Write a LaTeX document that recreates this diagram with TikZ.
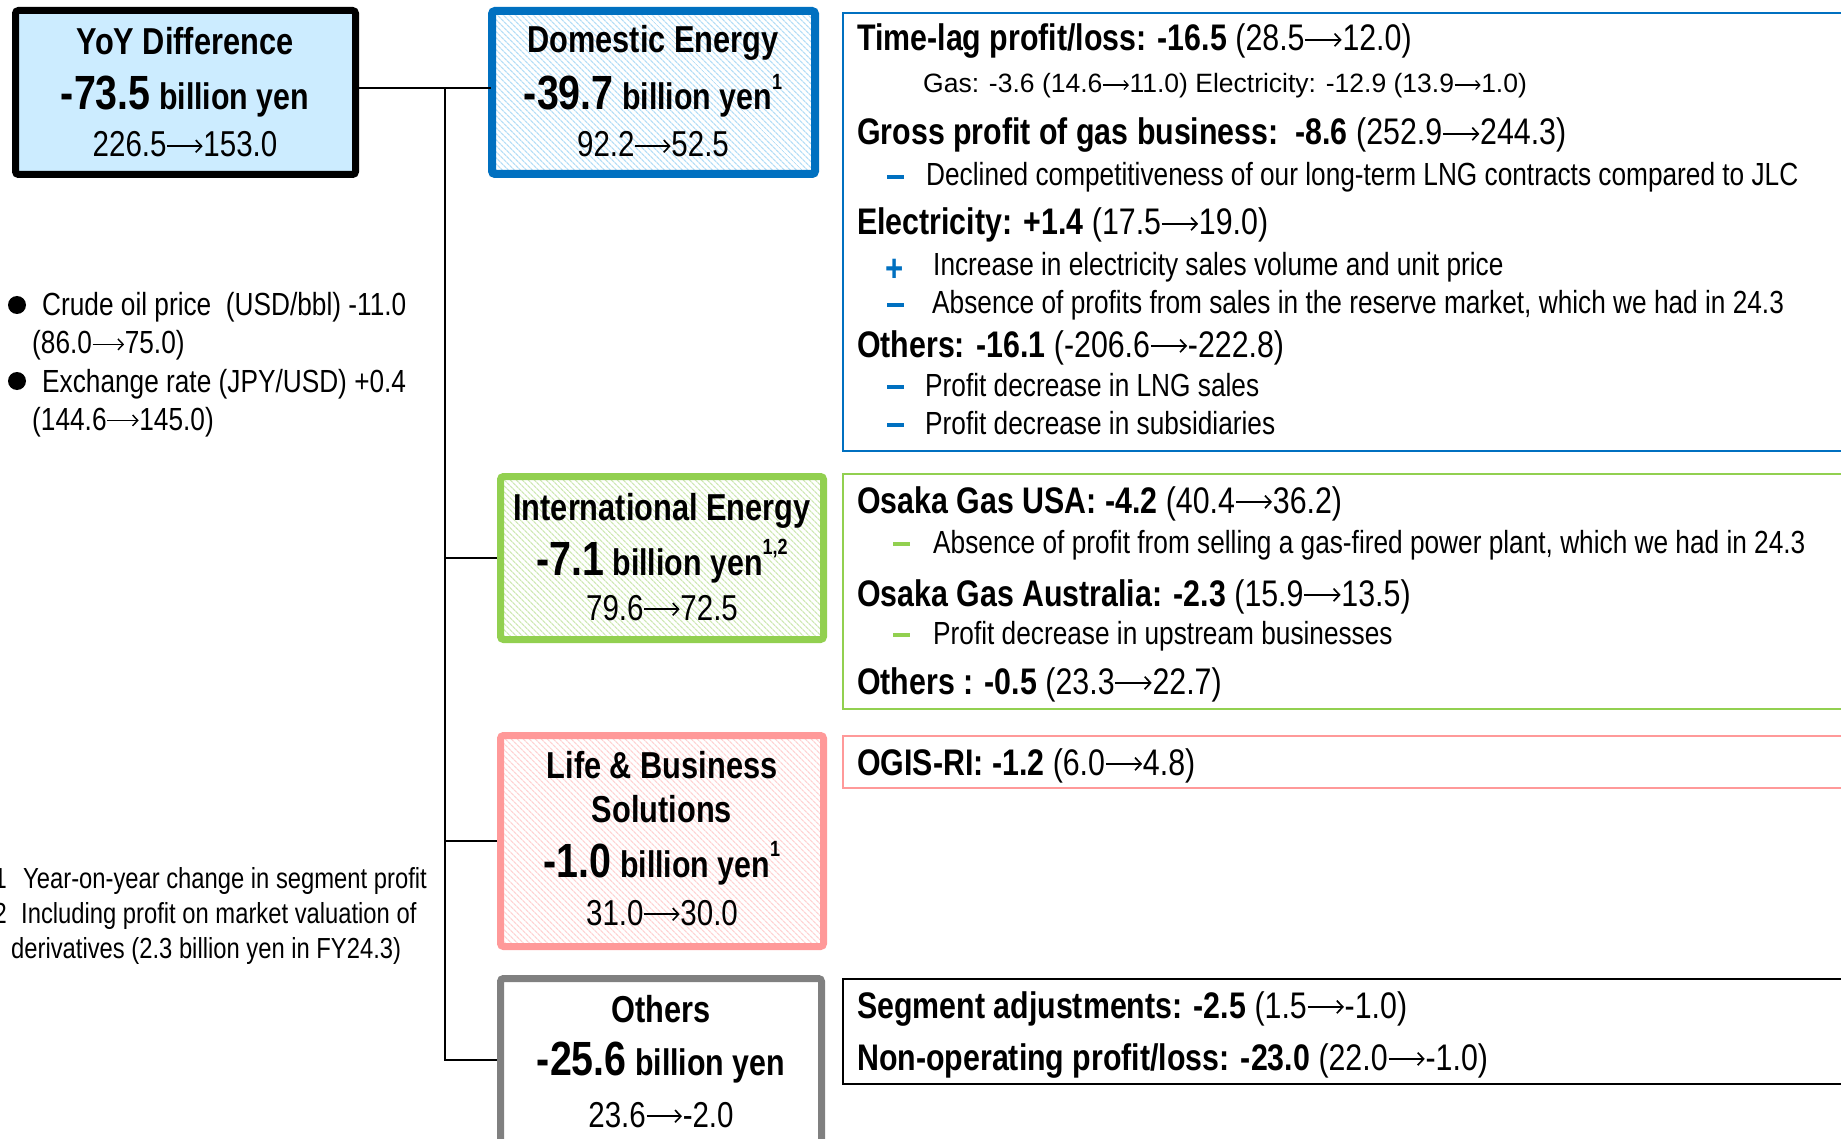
\documentclass[tikz,border=0pt]{standalone}
\usepackage{fontspec}
\setmainfont{Liberation Sans}[FakeStretch=0.82]
\newfontfamily\widefont{Liberation Sans}
\usetikzlibrary{patterns.meta,arrows.meta}

\definecolor{dblue}{HTML}{0070C0}
\definecolor{lblue}{HTML}{CCECFF}
\definecolor{hblue}{HTML}{B4DEF7}
\definecolor{dgreen}{HTML}{92D050}
\definecolor{hgreen}{HTML}{CFE9B4}
\definecolor{dpink}{HTML}{FF9999}
\definecolor{hpink}{HTML}{FFD3D3}
\definecolor{dgrey}{HTML}{808080}

\newcommand\fs[1]{\fontsize{#1}{#1}\selectfont}
\newcommand\ar{\tikz[baseline=-0.3em,line cap=butt]{\draw[draw=black,line width=0.045em,-{Straight Barb[length=0.16em,width=0.34em,line width=0.045em]}] (0.02em,0pt) -- (1.0em,0pt);}}
\newcommand\sups[1]{\raisebox{0.55em}{\fs{22}#1}}

\tikzset{
  segbox/.style={draw, rounded corners=3pt, line width=7pt, inner sep=0pt},
  hatch/.style={pattern={Lines[angle=-45,distance=4pt,line width=1.3pt]}, pattern color=#1},
  panel/.style={draw=#1, line width=2pt, anchor=north west, inner sep=0pt, minimum width=1100pt},
  ctext/.style={anchor=base, inner sep=0pt},
  hd/.style={anchor=base west, inner sep=0pt, font=\fs{37}},
  sub/.style={anchor=base west, inner sep=0pt, font=\fs{32}},
  note/.style={anchor=base west, inner sep=0pt, font=\fs{32}},
  fnote/.style={anchor=base west, inner sep=0pt, font=\fs{29}},
  mk/.style={fill=#1, draw=none, minimum width=17pt, minimum height=4pt, inner sep=0pt},
  conn/.style={line width=2.5pt, draw=black},
}

\begin{document}
\begin{tikzpicture}[x=1pt,y=-1pt]
\useasboundingbox (0,0) rectangle (1841,1139);
\fill[white] (0,0) rectangle (1841,1139);
\clip (0,0) rectangle (1841,1139);

% ---------- segment boxes ----------
\node[segbox, draw=black, fill=lblue, minimum width=340pt, minimum height=164pt] (yoy) at (185.5,92.5) {};
\node[segbox, draw=dblue, line width=8pt, hatch=hblue, minimum width=323pt, minimum height=163pt] (dom) at (653.5,92.5) {};
\node[segbox, draw=dgreen, hatch=hgreen, minimum width=323pt, minimum height=163pt] (intl) at (662,558) {};
\node[segbox, draw=dpink, hatch=hpink, minimum width=323pt, minimum height=211pt] (life) at (662,841) {};
\node[segbox, draw=dgrey, fill=white, minimum width=321pt, minimum height=168pt] (oth) at (661,1062.5) {};

% ---------- connectors ----------
\coordinate (jtop) at (445,88);
\coordinate (jint) at (445,558);
\coordinate (jlife) at (445,841);
\coordinate (joth) at (445,1060);
\draw[conn] (yoy.east |- jtop) -- (dom.west |- jtop);
\draw[conn] (jtop) -- (joth) -- (oth.west |- joth);
\draw[conn] (jint) -- (intl.west);
\draw[conn] (jlife) -- (life.west);

% ---------- box texts ----------
\node[ctext] (yoy1) at (185,55) {\bfseries\fs{37.5}YoY Difference};
\node[ctext] (yoy2) at (185,110) {\bfseries{\fs{48}-73.5}\fs{37} billion yen};
\node[ctext] (yoy3) at (185,157) {\fs{36}226.5\ar 153.0};

\node[ctext] (dom1) at (653,53) {\bfseries\fs{37.5}Domestic Energy};
\node[ctext] (dom2) at (653,110) {\bfseries{\fs{48}-39.7}\fs{37} billion yen\sups{1}};
\node[ctext] (dom3) at (653,157) {\fs{36}92.2\ar 52.5};

\node[ctext] (int1) at (662,520) {\bfseries\fs{37.5}International Energy};
\node[ctext] (int2) at (662,575) {\bfseries{\fs{48}-7.1}\fs{37} billion yen\sups{1,2}};
\node[ctext] (int3) at (662,620) {\fs{36}79.6\ar 72.5};

\node[ctext] (lif1) at (662,778) {\bfseries\fs{37.5}Life \& Business};
\node[ctext] (lif2) at (662,822) {\bfseries\fs{37.5}Solutions};
\node[ctext] (lif3) at (662,877) {\bfseries{\fs{48}-1.0}\fs{37} billion yen\sups{1}};
\node[ctext] (lif4) at (662,925) {\fs{36}31.0\ar 30.0};

\node[ctext] (oth1) at (661,1022) {\bfseries\fs{37.5}Others};
\node[ctext] (oth2) at (661,1075) {\bfseries{\fs{48}-25.6}\fs{37} billion yen};
\node[ctext] (oth3) at (661,1127) {\fs{36}23.6\ar -2.0};

% ---------- left notes ----------
\node[circle, fill=black, inner sep=0pt, minimum size=18pt] (b1) at (17,305) {};
\node[note] (n1) at (42,316) {Crude oil price\ \ (USD/bbl) -11.0};
\node[note] (n2) at (32,354) {(86.0\ar 75.0)};
\node[circle, fill=black, inner sep=0pt, minimum size=18pt] (b2) at (17,381) {};
\node[note] (n3) at (42,392) {Exchange rate (JPY/USD) +0.4};
\node[note] (n4) at (32,430) {(144.6\ar 145.0)};

\node[fnote, anchor=base east] (f1n) at (7,888) {1};
\node[fnote] (f1) at (23,888) {Year-on-year change in segment profit};
\node[fnote, anchor=base east] (f2n) at (7,923) {2};
\node[fnote] (f2) at (21,923) {Including profit on market valuation of};
\node[fnote] (f3) at (11,958) {derivatives (2.3 billion yen in FY24.3)};

% ---------- right panels ----------
\node[panel=dblue, minimum height=438pt] (domR) at (842,12) {};
\node[panel=dgreen, minimum height=235pt] (intR) at (842,473) {};
\node[panel=dpink, minimum height=52pt] (lifR) at (842,735) {};
\node[panel=black, minimum height=105pt] (othR) at (842,978) {};

% domestic details
\node[hd] (d1) at (857,51) {\textbf{Time-lag profit/loss: -16.5} (28.5\ar 12.0)};
\node[sub, font=\widefont\fs{26.5}] (d2) at (923,93) {Gas: -3.6 (14.6\ar 11.0) Electricity: -12.9 (13.9\ar 1.0)};
\node[hd] (d3) at (857,145) {\textbf{Gross profit of gas business:\ \ -8.6} (252.9\ar 244.3)};
\node[mk=dblue] (m1) at (895,177) {};
\node[sub] (d4) at (926,186) {Declined competitiveness of our long-term LNG contracts compared to JLC};
\node[hd] (d5) at (857,235) {\textbf{Electricity: +1.4} (17.5\ar 19.0)};
\node[ctext, text=dblue, font=\bfseries\fs{38}] (pl1) at (895,282) {+};
\node[sub] (d6) at (933,276) {Increase in electricity sales volume and unit price};
\node[mk=dblue] (m2) at (895,305) {};
\node[sub] (d7) at (932,314) {Absence of profits from sales in the reserve market, which we had in 24.3};
\node[hd] (d8) at (857,357) {\textbf{Others: -16.1} (-206.6\ar -222.8)};
\node[mk=dblue] (m3) at (895,387) {};
\node[sub] (d9) at (925,396) {Profit decrease in LNG sales};
\node[mk=dblue] (m4) at (895,425) {};
\node[sub] (d10) at (925,434) {Profit decrease in subsidiaries};

% international details
\node[hd] (i1) at (857,513) {\textbf{Osaka Gas USA: -4.2} (40.4\ar 36.2)};
\node[mk=dgreen] (g1) at (901,544) {};
\node[sub] (i2) at (933,553) {Absence of profit from selling a gas-fired power plant, which we had in 24.3};
\node[hd] (i3) at (857,606) {\textbf{Osaka Gas Australia: -2.3} (15.9\ar 13.5)};
\node[mk=dgreen] (g2) at (901,635) {};
\node[sub] (i4) at (933,644) {Profit decrease in upstream businesses};
\node[hd] (i5) at (857,694) {\textbf{Others : -0.5} (23.3\ar 22.7)};

% life details
\node[hd] (l1) at (857,775) {\textbf{OGIS-RI: -1.2} (6.0\ar 4.8)};

% others details
\node[hd] (o1) at (857,1018) {\textbf{Segment adjustments: -2.5} (1.5\ar -1.0)};
\node[hd] (o2) at (857,1070) {\textbf{Non-operating profit/loss: -23.0} (22.0\ar -1.0)};
\end{tikzpicture}
\end{document}
